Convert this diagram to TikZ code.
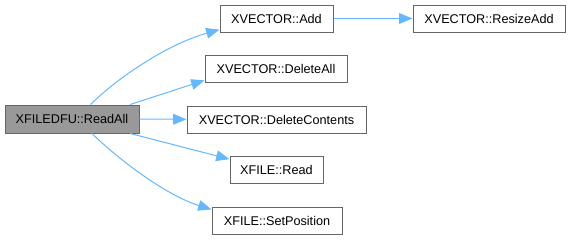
\documentclass[tikz,border=0pt]{standalone}
\usepackage{fontspec}
\setmainfont{Liberation Sans}
\usepackage{xcolor}
\usepackage{tikz}
\usetikzlibrary{positioning,arrows.meta}

\definecolor{callblue}{HTML}{63B8FF}
\definecolor{edgegray}{HTML}{666666}
\definecolor{rootgray}{HTML}{999999}

\tikzset{
  func/.style={draw=edgegray, fill=white, line width=0.75pt, inner sep=0pt,
    minimum height=20.25pt, font=\fontsize{9.5}{11}\selectfont},
  rootfunc/.style={func, fill=rootgray, minimum height=21pt},
  call/.style={draw=callblue, line width=0.75pt, -{Triangle[length=10pt,width=8pt]}}
}

\begin{document}
\begin{tikzpicture}[x=0.75pt,y=-0.75pt]

\useasboundingbox (0,0) rectangle (572,240);

\node[rootfunc, minimum width=100.5pt](readall) at (72,119) {XFILEDFU::ReadAll};

\node[func, minimum width=84.75pt](add) at (276.5,18.5) {XVECTOR::Add};
\node[func, minimum width=106.5pt](delall) at (276,69) {XVECTOR::DeleteAll};
\node[func, minimum width=134.25pt](delcont) at (276.5,119.5) {XVECTOR::DeleteContents};
\node[func, minimum width=69.75pt](read) at (276.5,170) {XFILE::Read};
\node[func, minimum width=97.5pt](setpos) at (277,221) {XFILE::SetPosition};
\node[func, minimum width=114pt](resize) at (489,18.5) {XVECTOR::ResizeAdd};

% calls out of ReadAll
\draw[call] (readall.38) .. controls (115,80) and (165,45) .. (add.191);
\draw[call] (readall.14) -- (delall.189);
\draw[call] (readall) -- (delcont);
\draw[call] (readall.-14) -- (read.167);
\draw[call] (readall.-36) .. controls (117,158) and (165,195) .. (setpos.170);

\draw[call] (add) -- (resize);

\end{tikzpicture}
\end{document}
